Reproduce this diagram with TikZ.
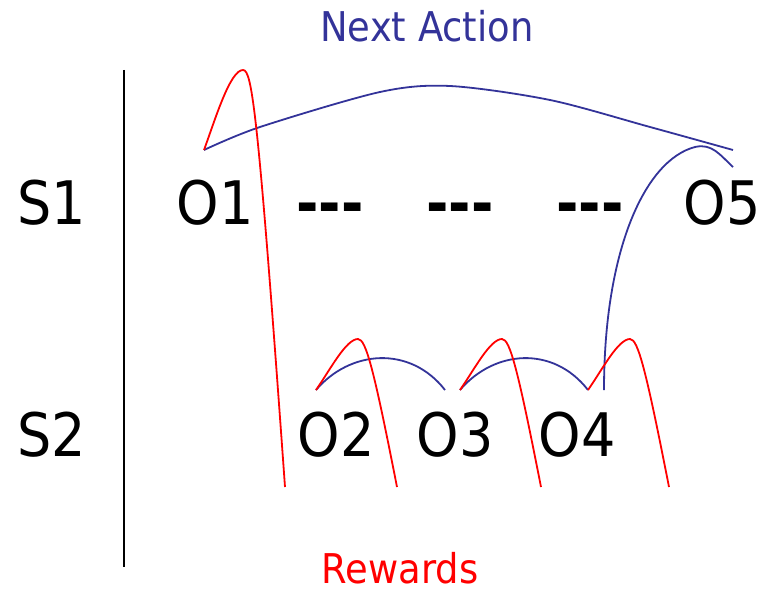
\documentclass[tikz,border=0pt]{standalone}
\usepackage{fontspec}
\setmainfont{DejaVu Sans}[FakeStretch=0.9]
\definecolor{actblue}{RGB}{51,51,153}
\definecolor{rewred}{RGB}{255,0,0}
\tikzset{
  big/.style={font=\fontsize{60}{60}\selectfont, anchor=base, inner sep=0pt},
  head/.style={font=\fontsize{41}{41}\selectfont, anchor=base, inner sep=0pt},
  actline/.style={actblue, line width=1.8pt},
  rewline/.style={rewred, line width=1.8pt},
}
\begin{document}
\begin{tikzpicture}[x=1pt,y=-1pt]
  \useasboundingbox (0,0) rectangle (767,591);
  % labels
  \node[head, text=actblue] (nextact) at (427,42) {Next Action};
  \node[head, text=rewred] (rewards) at (400,583) {Rewards};
  \node[big] (s1) at (52,224) {S1};
  \node[big] (s2) at (52,456) {S2};
  \node[big] (o1) at (215,224) {O1};
  \foreach \n/\x in {d1/330, d2/460, d3/590} { \node[big, font=\fontsize{60}{60}\selectfont\bfseries] (\n) at (\x,224) {-{}-{}-}; }
  \node[big] (o5) at (722,224) {O5};
  \node[big] (o2) at (336,456) {O2};
  \node[big] (o3) at (455,456) {O3};
  \node[big] (o4) at (577,456) {O4};
  \draw[line width=1.4pt] (124,70) -- (124,567);
  % curve ends and peaks
  \coordinate (o1top) at (204,150);
  \coordinate (o5a) at (733,150);
  \coordinate (o5b) at (733,167);
  \coordinate (p1) at (243,70);
  \coordinate (p5) at (695,147);
  \coordinate (o4r) at (604,390);
  \foreach \n/\x in {2/316, 3/460, 4/588} {
    \coordinate (o\n l) at (\x,390);
    \coordinate (p\n) at (\x+42,339);
    \coordinate (r\n) at (\x+81,487);
  }
  \coordinate (o2r) at (445,390);
  \coordinate (o3r) at (588,390);
  % next action
  \draw[actline] plot[smooth] coordinates {(o1top) (260,127) (380,92) (450,86) (550,100) (650,127) (o5a)};
  \foreach \s/\e in {o2l/o2r, o3l/o3r} { \draw[actline] (\s) .. controls +(34,-40) and +(-35,-45) .. (\e); }
  \draw[actline] (o4r) .. controls +(0,-140) and +(-50,13) .. (p5) .. controls +(17,-4) and +(-13,-12) .. (o5b);
  % rewards
  \draw[rewline] (o1top) .. controls +(11,-30) and +(-13,0) .. (p1) .. controls +(9,0) and +(-27,-377) .. (285,487);
  \foreach \n in {2,3,4} {
    \draw[rewline] (o\n l) .. controls +(14,-20) and +(-12,0) .. (p\n) .. controls +(8,0) and +(-23,-117) .. (r\n);
  }
\end{tikzpicture}
\end{document}
